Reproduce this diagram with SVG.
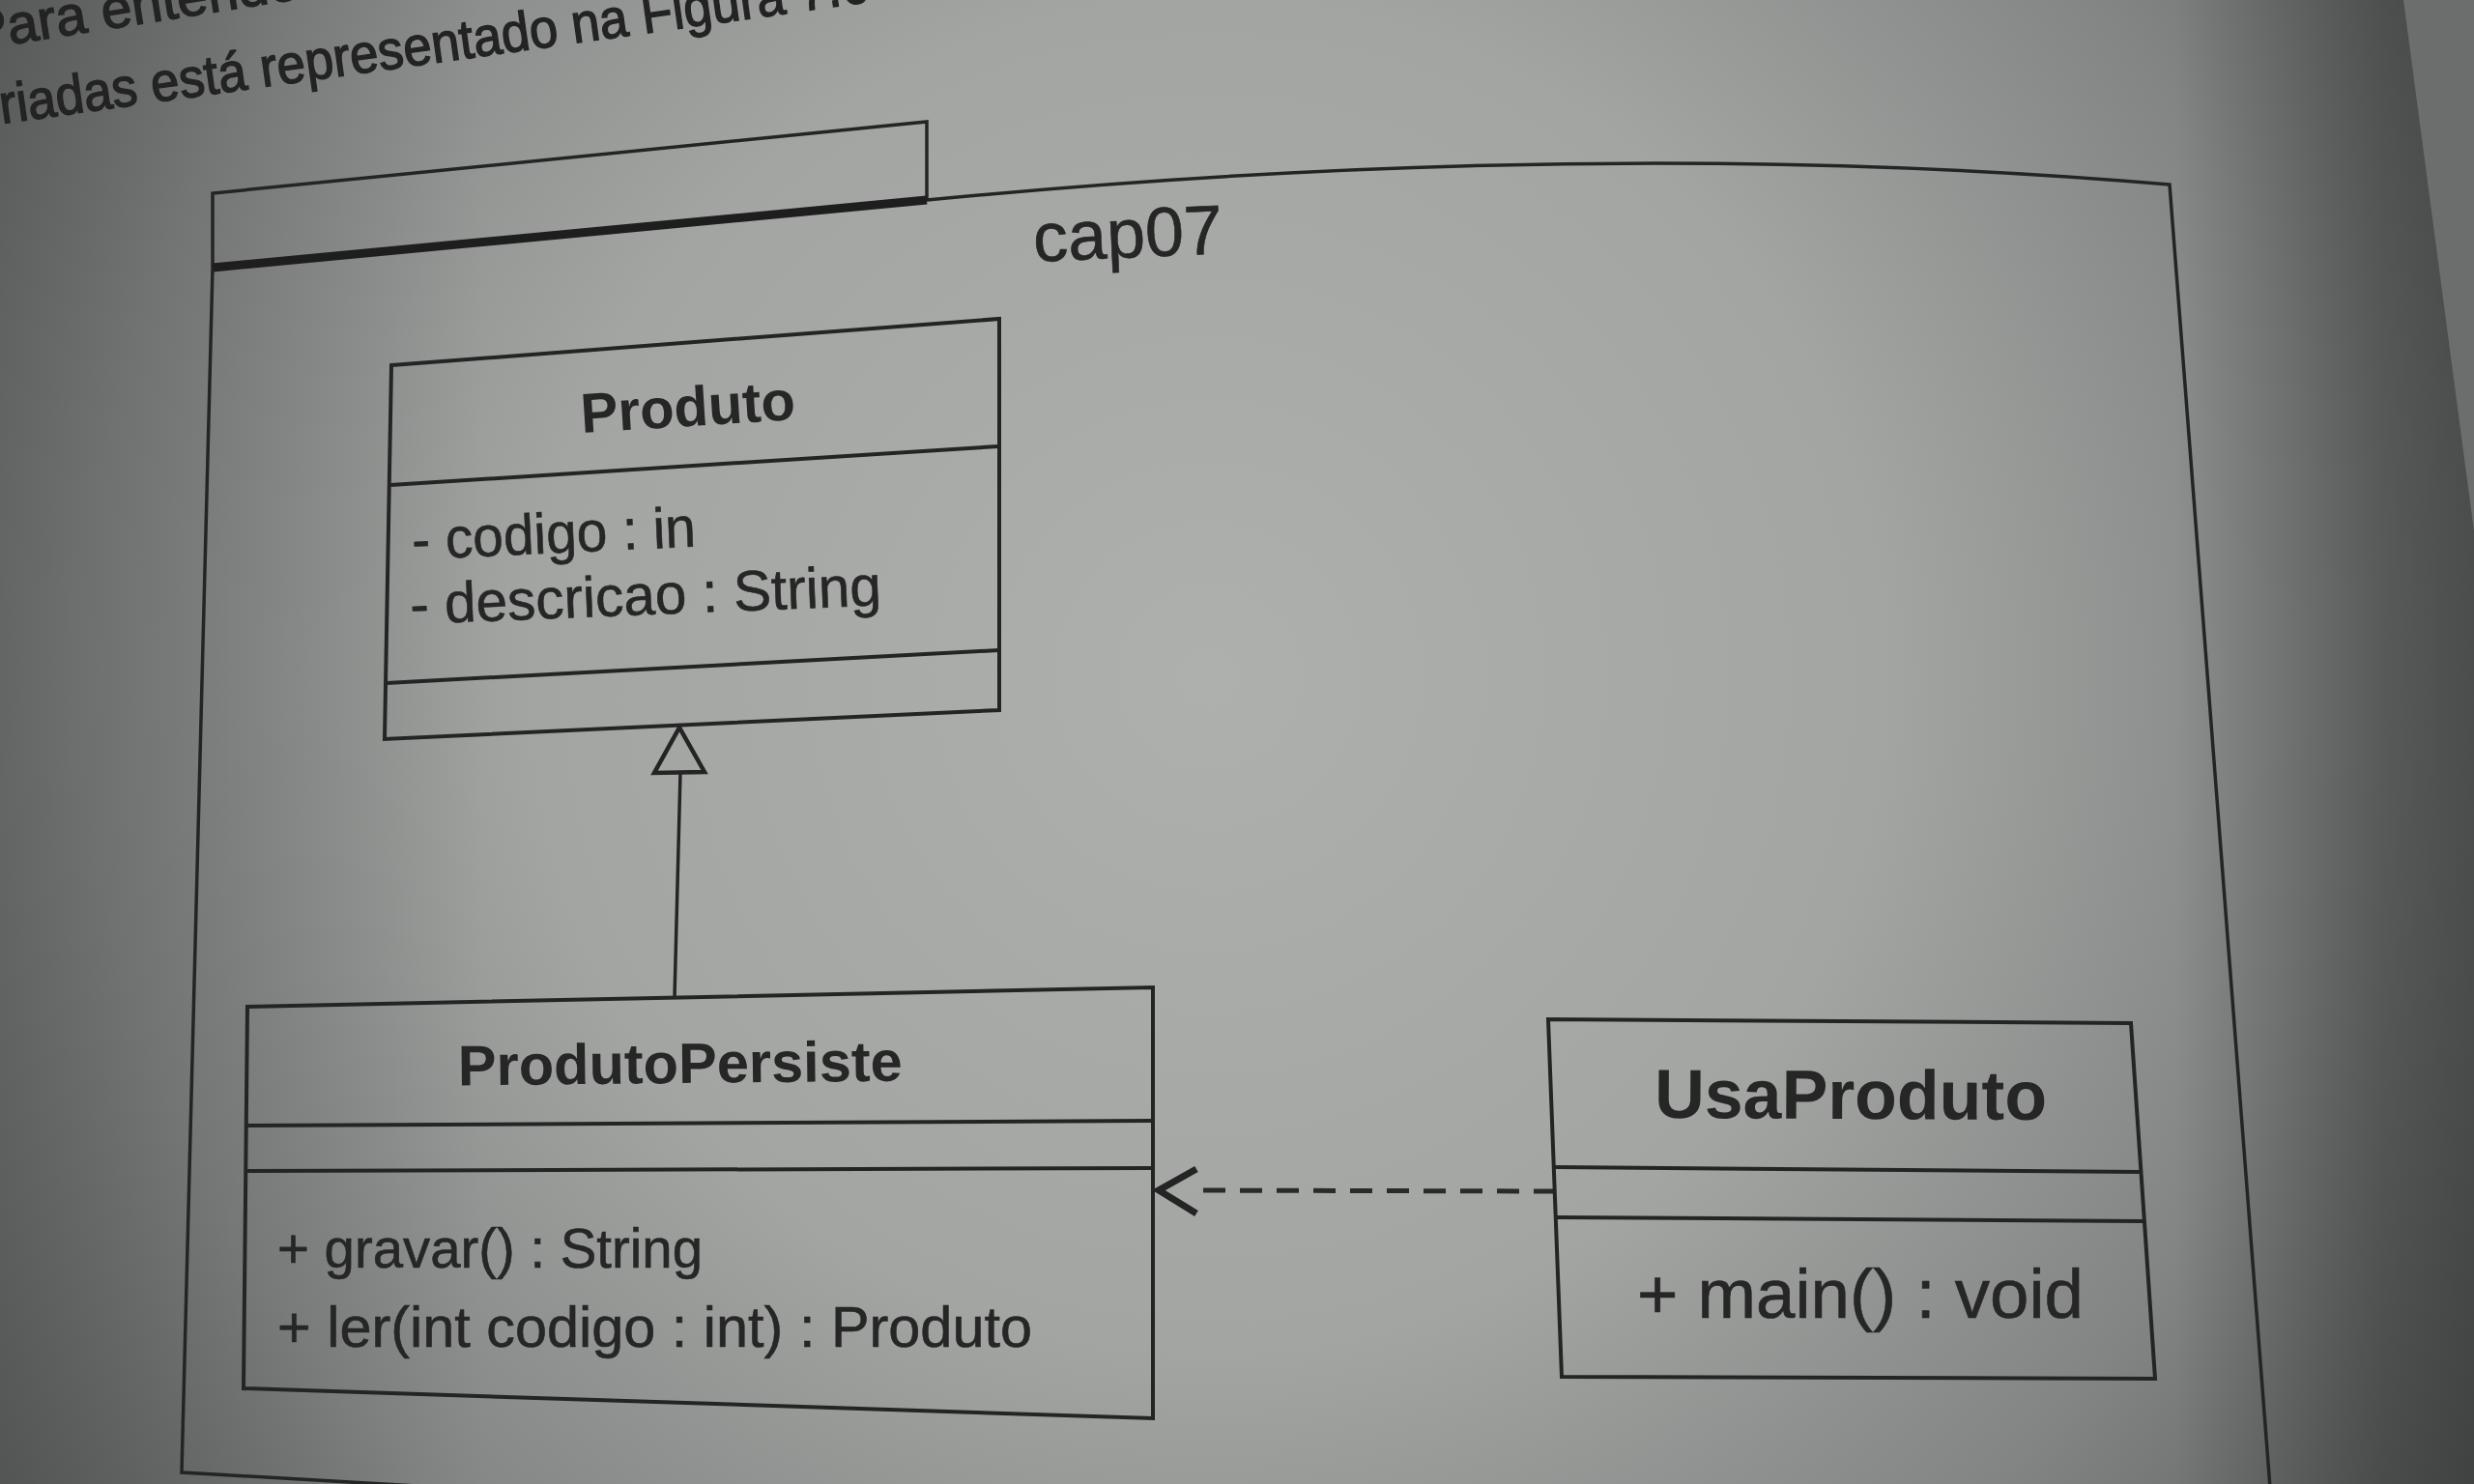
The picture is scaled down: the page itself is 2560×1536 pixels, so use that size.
<svg xmlns="http://www.w3.org/2000/svg" width="2560" height="1536" viewBox="0 0 2560 1536">
  <defs>
    <radialGradient id="paper" cx="1250" cy="700" r="1550" gradientUnits="userSpaceOnUse">
      <stop offset="0" stop-color="#aeb0ae"/>
      <stop offset="0.45" stop-color="#a3a5a3"/>
      <stop offset="0.75" stop-color="#838584"/>
      <stop offset="1" stop-color="#5c5e5d"/>
    </radialGradient>
    <linearGradient id="spine" x1="2250" y1="0" x2="2560" y2="0" gradientUnits="userSpaceOnUse">
      <stop offset="0" stop-color="#2a2c2c" stop-opacity="0"/>
      <stop offset="0.7" stop-color="#2a2c2c" stop-opacity="0.45"/>
      <stop offset="1" stop-color="#2a2c2c" stop-opacity="0.55"/>
    </linearGradient>
    <linearGradient id="leftshade" x1="0" y1="0" x2="500" y2="0" gradientUnits="userSpaceOnUse">
      <stop offset="0" stop-color="#3a3c3c" stop-opacity="0.35"/>
      <stop offset="1" stop-color="#3a3c3c" stop-opacity="0"/>
    </linearGradient>
    <style>
      .ln { fill: none; stroke: #242424; stroke-width: 4; stroke-linejoin: miter; }
      .thin { fill: none; stroke: #242424; stroke-width: 3.5; }
      .thick { fill: none; stroke: #1e1e1e; stroke-width: 9; }
      .name { font-family: "Liberation Sans", Arial, sans-serif; font-weight: bold; fill: #262626; text-anchor: middle; }
      .mem { font-family: "Liberation Sans", Arial, sans-serif; fill: #262626; stroke: #262626; stroke-width: 0.6; }
      .page { font-family: "Liberation Sans", Arial, sans-serif; fill: #232323; stroke: #232323; stroke-width: 1.4; font-size: 57px; }
    </style>
  </defs>

  <!-- background photo of the page -->
  <rect x="0" y="0" width="2560" height="1536" fill="url(#paper)"/>
  <rect x="0" y="0" width="2560" height="1536" fill="url(#leftshade)"/>
  <rect x="0" y="0" width="2560" height="1536" fill="url(#spine)"/>
  <polygon points="2487,0 2560,0 2560,550" fill="#6c6e6d"/>

  <!-- running text of the book page -->
  <text class="page" x="-27" y="52" transform="rotate(-9 -27 52)">Para entender o c</text>
  <text class="page" x="2" y="128" textLength="952" lengthAdjust="spacingAndGlyphs" transform="rotate(-8 2 128)">riadas está representado na Figura 7.6 e</text>

  <!-- package frame -->
  <g id="cap07">
    <path class="thin" d="M220,277 L220,200 L959,126 L959,207"/>
    <path class="thick" d="M220,277 L959,207"/>
    <path class="thin" d="M959,207 Q1650,140 2245,191 L2349,1540"/>
    <path class="thin" d="M220,277 L188,1524 L640,1550"/>
    <text class="mem" x="1070" y="271" font-size="72" transform="rotate(-2.6 1070 271)">cap07</text>
  </g>

  <!-- connectors -->
  <g id="connectors">
    <line x1="698" y1="1032" x2="704" y2="800" stroke="#242424" stroke-width="3.5"/>
    <polygon points="703,753 677,800 729,799" fill="#a4a6a4" stroke="#242424" stroke-width="4.5" stroke-linejoin="miter"/>
    <line x1="1610" y1="1233" x2="1234" y2="1232" stroke="#2a2a2a" stroke-width="5" stroke-dasharray="23 15"/>
    <polyline points="1238,1210 1199,1232 1238,1256" fill="none" stroke="#242424" stroke-width="7" stroke-linejoin="miter"/>
  </g>

  <!-- Produto -->
  <g id="Produto">
    <polygon class="ln" points="405,378 1034,330 1034,735 398,765"/>
    <line class="ln" x1="404" y1="502" x2="1033" y2="462"/>
    <line class="ln" x1="400" y1="707" x2="1033" y2="673"/>
    <text class="name" x="713" y="441" font-size="58" transform="rotate(-3.6 713 441)">Produto</text>
    <text class="mem" x="427" y="579" font-size="59" textLength="294" lengthAdjust="spacingAndGlyphs" transform="rotate(-2.6 427 579)">- codigo : in</text>
    <text class="mem" x="425" y="646" font-size="59" textLength="488" lengthAdjust="spacingAndGlyphs" transform="rotate(-2.3 425 646)">- descricao : String</text>
  </g>

  <!-- ProdutoPersiste -->
  <g id="ProdutoPersiste">
    <polygon class="ln" points="256,1042 1193,1022 1193,1468 252,1437"/>
    <line class="ln" x1="256" y1="1165" x2="1191" y2="1160"/>
    <line class="ln" x1="256" y1="1212" x2="1191" y2="1209"/>
    <text class="name" x="704" y="1121" font-size="59" textLength="460" lengthAdjust="spacingAndGlyphs" transform="rotate(-0.6 704 1121)">ProdutoPersiste</text>
    <text class="mem" x="287" y="1312" font-size="58" textLength="440" lengthAdjust="spacingAndGlyphs">+ gravar() : String</text>
    <text class="mem" x="287" y="1394" font-size="59" textLength="781" lengthAdjust="spacingAndGlyphs">+ ler(int codigo : int) : Produto</text>
  </g>

  <!-- UsaProduto -->
  <g id="UsaProduto">
    <polygon class="ln" points="1602,1055 2205,1059 2230,1427 1616,1425"/>
    <line class="ln" x1="1609" y1="1208" x2="2214" y2="1213"/>
    <line class="ln" x1="1611" y1="1260" x2="2217" y2="1264"/>
    <text class="name" x="1915" y="1158" font-size="72" textLength="406" lengthAdjust="spacingAndGlyphs" transform="rotate(0.3 1915 1158)">UsaProduto</text>
    <text class="mem" x="1694" y="1364" font-size="72" textLength="462" lengthAdjust="spacingAndGlyphs">+ main() : void</text>
  </g>
</svg>
